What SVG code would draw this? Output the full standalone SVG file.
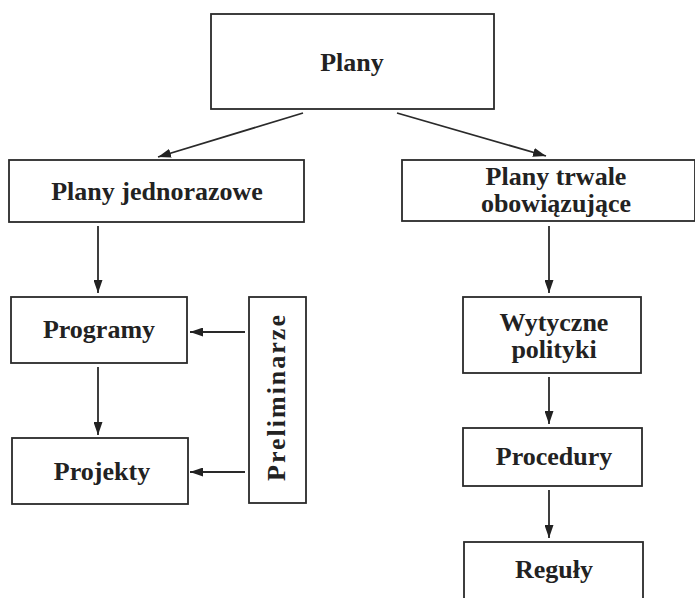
<svg xmlns="http://www.w3.org/2000/svg" width="695" height="598" viewBox="0 0 695 598">
<style>
rect.box{fill:#fff;stroke:#2a2a2a;stroke-width:1.8}
text{font-family:"Liberation Serif","DejaVu Serif",serif;font-weight:bold;font-size:26px;fill:#222;text-anchor:middle}
.conn line{stroke:#2a2a2a;stroke-width:1.8;marker-end:url(#ah)}
</style>
<defs>
<marker id="ah" viewBox="0 0 13 9" refX="13" refY="4.5" markerWidth="13" markerHeight="9" markerUnits="userSpaceOnUse" orient="auto">
<path d="M0,0 L13,4.5 L0,9 Z" fill="#222"/>
</marker>
</defs>
<rect width="695" height="598" fill="#fff"/>
<g id="plany"><rect class="box" x="211" y="14" width="283" height="95"/><text x="352" y="71">Plany</text></g>
<g id="jednorazowe"><rect class="box" x="9" y="160" width="295" height="62"/><text x="157" y="200">Plany jednorazowe</text></g>
<g id="trwale"><rect class="box" x="402" y="160" width="293" height="61"/><text x="556" y="185">Plany trwale</text><text x="556" y="212">obowiązujące</text></g>
<g id="programy"><rect class="box" x="11" y="297" width="176" height="66"/><text x="99" y="338">Programy</text></g>
<g id="projekty"><rect class="box" x="12" y="438" width="176" height="66"/><text x="102" y="480">Projekty</text></g>
<g id="preliminarze"><rect class="box" x="249" y="297" width="57" height="206"/><text transform="translate(285,397) rotate(-90)" style="letter-spacing:2px">Preliminarze</text></g>
<g id="wytyczne"><rect class="box" x="463" y="297" width="178" height="76"/><text x="554" y="331">Wytyczne</text><text x="554" y="358">polityki</text></g>
<g id="procedury"><rect class="box" x="463" y="428" width="179" height="58"/><text x="554" y="465">Procedury</text></g>
<g id="reguly"><rect class="box" x="464" y="542" width="179" height="62"/><text x="554" y="578">Reguły</text></g>
<g class="conn" id="connectors">
<line x1="303" y1="113" x2="158" y2="157"/>
<line x1="397" y1="113" x2="546" y2="156"/>
<line x1="98" y1="226" x2="98" y2="293"/>
<line x1="98" y1="367" x2="98" y2="435"/>
<line x1="245" y1="332" x2="190" y2="332"/>
<line x1="245" y1="472" x2="190" y2="472"/>
<line x1="549" y1="226" x2="549" y2="293"/>
<line x1="549" y1="377" x2="549" y2="424"/>
<line x1="549" y1="490" x2="549" y2="538"/>
</g>
</svg>
